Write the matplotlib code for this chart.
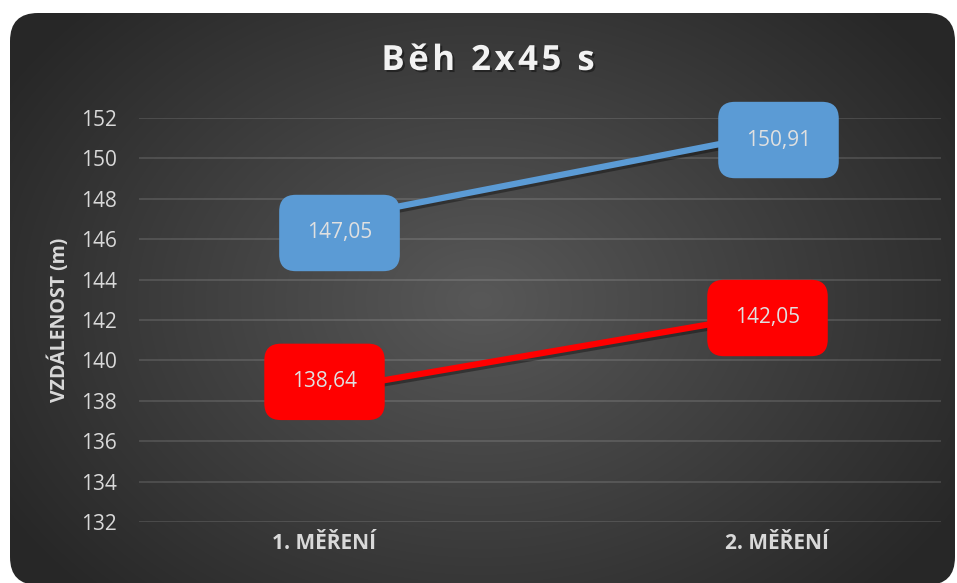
import numpy as np
import matplotlib
matplotlib.use('Agg')
import matplotlib.pyplot as plt
import matplotlib.patheffects as pe
import matplotlib.transforms as mtrans
from matplotlib.patches import FancyBboxPatch

plt.rcParams['font.family'] = ['Open Sans', 'DejaVu Sans']

# data
kategorie = ['1. MĚŘENÍ', '2. MĚŘENÍ']
serie_modra = [147.05, 150.91]
serie_cervena = [138.64, 142.05]
y_ticks = list(range(132, 153, 2))
titulek = 'Běh 2x45 s'

W, H = 957, 583
fig = plt.figure(figsize=(W / 100, H / 100), dpi=100)
fig.patch.set_facecolor('white')

# karta s radialnim gradientem
bg = fig.add_axes([0, 0, 1, 1])
bg.set_xlim(0, W)
bg.set_ylim(H, 0)
bg.axis('off')
card = FancyBboxPatch((10, 13), 945, 572, boxstyle='round,pad=0,rounding_size=28',
                      fc='none', ec='none', zorder=2)
bg.add_patch(card)
yy, xx = np.mgrid[0:H, 0:W]
d = np.clip(np.hypot((xx - 480) / 560, (yy - 300) / 420), 0, 1)
c0, c1 = 0x58 / 255, 0x27 / 255
g = c0 + (c1 - c0) * d
im = bg.imshow(np.dstack([g, g, g]), extent=(0, W, H, 0), aspect='auto', zorder=0)
im.set_clip_path(card)

ax = fig.add_axes([139 / W, 1 - 522 / H, (941 - 139) / W, (522 - 118) / H])
ax.patch.set_alpha(0)
ax.set_xlim(-0.5, 1.5)
ax.set_ylim(132, 152)
ax.set_yticks(y_ticks)
ax.set_yticklabels([str(t) for t in y_ticks], color='#d9d9d9', fontsize=15)
ax.set_xticks([0, 1])
ax.set_xticklabels(kategorie, color='#d9d9d9', fontsize=15, fontweight='bold')
ax.tick_params(length=0)
ax.tick_params(axis='y', pad=16)
ax.tick_params(axis='x', pad=8)
for s in ax.spines.values():
    s.set_visible(False)
ax.grid(axis='y', color='white', alpha=0.12, lw=1.5)
ax.set_axisbelow(True)

# posun popisku kategorii jako v originale
for lbl, dx in zip(ax.get_xticklabels(), [-15, 36]):
    lbl.set_transform(lbl.get_transform() + mtrans.ScaledTranslation(dx / 100, 0, fig.dpi_scale_trans))

ax.set_ylabel('VZDÁLENOST (m)', color='#d9d9d9', fontsize=14, fontweight='bold', labelpad=8)

shadow = [pe.SimpleLineShadow(offset=(1.5, -2), shadow_color='black', alpha=0.35), pe.Normal()]
x = np.arange(len(kategorie))
ax.plot(x, serie_modra, color='#5b9bd5', lw=4.5, solid_capstyle='butt', path_effects=shadow, zorder=3)
ax.plot(x, serie_cervena, color='#ff0000', lw=4.5, solid_capstyle='butt', path_effects=shadow, zorder=3)

def popisek(xv, yv, barva, dx, dy):
    ax.annotate(f'{yv:.2f}'.replace('.', ','), (xv, yv), xytext=(dx * 0.72, dy * 0.72),
                textcoords='offset points', ha='center', va='center', fontsize=15,
                color='#e0e0e0', zorder=5,
                bbox=dict(boxstyle='round,pad=1.33,rounding_size=0.8', fc=barva, ec='none'))

popisek(0, serie_modra[0], '#5b9bd5', 0, -15)
popisek(1, serie_modra[1], '#5b9bd5', 38, 0)
popisek(0, serie_cervena[0], '#ff0000', -15, 6)
popisek(1, serie_cervena[1], '#ff0000', 27, 1)

# titulek s prostrkanim pismen
renderer = fig.canvas.get_renderer()
kw = dict(fontsize=25, fontweight='bold', color='#f2f2f2', va='center', ha='left',
          path_effects=[pe.withSimplePatchShadow(offset=(1.5, -1.5), shadow_rgbFace='black', alpha=0.4)])
spacing = 3.5
widths = []
for i in range(len(titulek) + 1):
    t = fig.text(0, 0, titulek[:i] if i else '', **kw)
    widths.append(t.get_window_extent(renderer).width if i else 0)
    t.remove()
total = widths[-1] + spacing * (len(titulek) - 1)
x0 = 488 - total / 2
for i, ch in enumerate(titulek):
    fig.text((x0 + widths[i] + spacing * i) / W, 1 - 61 / H, ch, **kw)

fig.savefig('out.png', dpi=100, facecolor='white')
